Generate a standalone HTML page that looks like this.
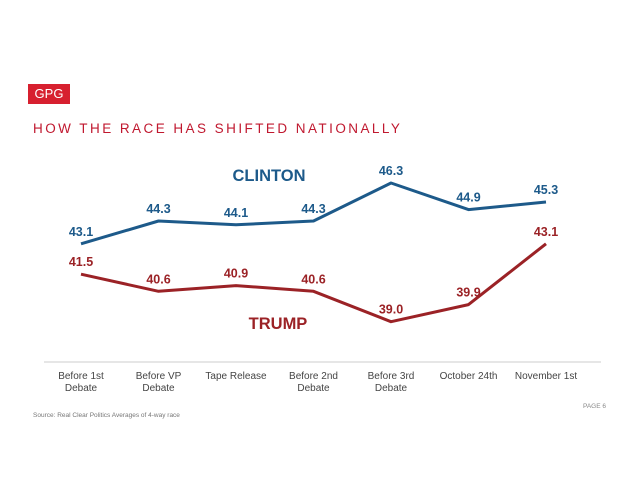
<!DOCTYPE html>
<html><head><meta charset="utf-8"><style>
body{margin:0;width:638px;height:493px;background:#fff;overflow:hidden;font-family:"Liberation Sans",sans-serif;position:relative}
.logo{position:absolute;left:28px;top:84px;width:42px;height:20px;background:#d7202f;color:#fff;font-size:13px;line-height:20px;text-align:center}
.title{position:absolute;left:33px;top:121px;font-size:13.5px;letter-spacing:2.45px;color:#c0182f;white-space:nowrap}
</style></head><body>
<div class="logo">GPG</div>
<div class="title">HOW THE RACE HAS SHIFTED NATIONALLY</div>
<svg id="chart" width="638" height="493" style="position:absolute;left:0;top:0"></svg>
<script>
const categories=[["Before 1st","Debate"],["Before VP","Debate"],["Tape Release"],["Before 2nd","Debate"],["Before 3rd","Debate"],["October 24th"],["November 1st"]];
const clinton=[43.1,44.3,44.1,44.3,46.3,44.9,45.3];
const trump=[41.5,40.6,40.9,40.6,39.0,39.9,43.1];
const svg=document.getElementById('chart');
const NS='http://www.w3.org/2000/svg';
const x=i=>81+i*77.5;
const y=v=>183+(46.3-v)*19;
function mk(t,a){const e=document.createElementNS(NS,t);for(const k in a)e.setAttribute(k,a[k]);svg.appendChild(e);return e;}
const ax=mk('line',{x1:44,x2:601,y1:362,y2:362,stroke:'#ccc','stroke-width':1});


categories.forEach((c,i)=>{c.forEach((l,j)=>{const t=mk('text',{x:x(i),y:379+j*12,'text-anchor':'middle','font-size':'10','fill':'#444'});t.textContent=l;

});});
function series(d,col,name){
const p=mk('polyline',{points:d.map((v,i)=>x(i)+','+y(v)).join(' '),fill:'none',stroke:col,'stroke-width':3,'stroke-linejoin':'round'});


d.forEach((v,i)=>{const t=mk('text',{x:x(i),y:y(v)-8,'text-anchor':'middle','font-size':'12.5','font-weight':'bold',fill:col});t.textContent=v.toFixed(1);

});
}
series(clinton,'#1d5a8a','clinton');
series(trump,'#9b2226','trump');
const l1=mk('text',{x:269,y:181,'text-anchor':'middle','font-size':'16.5','font-weight':'bold',fill:'#1d5a8a'});l1.textContent='CLINTON';


const l2=mk('text',{x:278,y:329,'text-anchor':'middle','font-size':'16.5','font-weight':'bold',fill:'#9b2226'});l2.textContent='TRUMP';


const s=mk('text',{x:33,y:417,'font-size':'6.5',fill:'#777'});s.textContent='Source: Real Clear Politics Averages of 4-way race';


const pg=mk('text',{x:606,y:408,'text-anchor':'end','font-size':'6.5',fill:'#888'});pg.textContent='PAGE 6';


</script>
</body></html>
